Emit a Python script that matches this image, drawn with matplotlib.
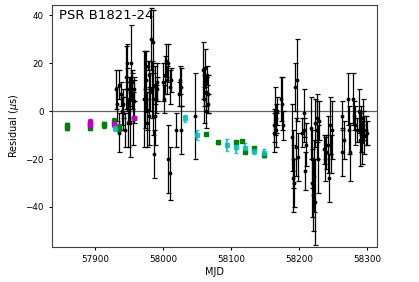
import numpy as np
import matplotlib
matplotlib.use('Agg')
import matplotlib.pyplot as plt

# Black (wideband) residuals: MJD, residual (us), error (us)
mjd_k = [57931, 57933, 57935, 57936, 57938, 57940, 57941, 57942, 57944, 57946,
         57947, 57948, 57949, 57950, 57951, 57952, 57953, 57954, 57955, 57956,
         57957, 57958, 57973, 57974, 57975, 57976, 57977, 57978, 57979, 57980,
         57981, 57983, 57984, 57985, 57986, 57987, 57988, 57989, 57990, 57991,
         57992, 58000, 58001, 58003, 58005, 58006, 58007, 58008, 58010, 58011,
         58012, 58020, 58024, 58025, 58026, 58027, 58047, 58059, 58060, 58061,
         58062, 58063, 58064, 58065, 58066, 58067, 58163, 58164, 58165, 58166,
         58167, 58168, 58174, 58175, 58176, 58190, 58191, 58192, 58193, 58195,
         58196, 58197, 58198, 58205, 58207, 58208, 58209, 58210, 58218, 58219,
         58220, 58221, 58222, 58223, 58224, 58226, 58227, 58228, 58230, 58237,
         58238, 58240, 58243, 58245, 58246, 58247, 58248, 58263, 58264, 58267,
         58272, 58273, 58275, 58280, 58281, 58283, 58286, 58289, 58290, 58291,
         58292, 58293, 58294, 58295, 58296, 58298, 58300]
res_k = [9, 3, 11, -9, 7, 0, 3, -1, -8, 14,
         9, 20, -5, 5, -5, 8, 20, 9, 12, -3,
         4, 9, 5, 9, 13, -5, 0, 19, -2, 15,
         8, 30, 9, 29, 5, -18, -2, 11, 5, 12,
         9, 12, 5, 15, 21, 13, 20, -20, 10, -26,
         13, -8, 7, 13, -8, 10, -2, 17, 10, 5,
         18, 0, 8, 15, 3, 7, -6, -9, 0, -3,
         -8, 0, 5, 3, -6, -11, -20, -28, -30, 10,
         -15, 13, -19, -9, -8, -1, -25, -14, -7, -20,
         -30, -35, -27, -38, -5, -3, -8, -20, -4, -16,
         -20, -17, -14, -28, -6, -18, -8, -2, -17, -12,
         5, -8, -17, 5, -2, -6, -8, 0, -12, -5,
         -10, -13, -3, -6, -10, -8, -9]
err_k = [8, 7, 6, 8, 5, 6, 6, 7, 7, 13,
         9, 8, 10, 9, 14, 6, 16, 8, 4, 11,
         9, 5, 20, 16, 12, 10, 8, 2, 12, 6,
         8, 13, 12, 13, 15, 10, 12, 8, 6, 8,
         5, 8, 6, 8, 7, 6, 8, 14, 7, 11,
         5, 7, 5, 6, 10, 8, 18, 12, 8, 10,
         8, 7, 6, 4, 4, 8, 7, 8, 10, 6,
         7, 6, 9, 11, 6, 14, 12, 14, 10, 10,
         12, 17, 10, 6, 5, 10, 8, 9, 13, 12,
         14, 15, 15, 18, 10, 10, 12, 14, 8, 6,
         9, 7, 12, 10, 12, 8, 12, 6, 10, 8,
         11, 10, 12, 11, 6, 8, 5, 9, 11, 7,
         7, 9, 8, 6, 8, 6, 5]

# Green
mjd_g = [57859, 57859, 57893, 57893, 57913, 57913, 57928, 57935, 57935, 57957,
         58064, 58081, 58107, 58117, 58121, 58134, 58148]
res_g = [-6, -7, -7, -5.5, -5.5, -6, -4, -7.5, -6.5, -3,
         -9.5, -13, -13, -12.5, -17, -15.5, -18.5]
err_g = [1, 1, 1, 1, 1, 1, 1, 1, 1, 0.5,
         0.5, 0.7, 0.6, 0.5, 0.5, 0.5, 0.5]

# Magenta
mjd_m = [57893, 57893, 57928, 57957]
res_m = [-4.5, -6, -5.5, -3]
err_m = [1, 1, 1, 0.5]

# Cyan
mjd_c = [57930, 58032, 58050, 58094, 58107, 58121, 58134, 58148]
res_c = [-7, -3, -10, -14, -15, -15.5, -16.5, -17.5]
err_c = [1.5, 1.5, 2, 2.5, 2.5, 2, 1.5, 1.5]

plt.rcParams['font.size'] = 7
plt.rcParams['axes.linewidth'] = 0.8
plt.rcParams['axes.edgecolor'] = '0.25'

fig, ax = plt.subplots(figsize=(4.19, 2.82), dpi=100)
ax.axhline(0, color='0.4', lw=0.9, zorder=0)
ax.errorbar(mjd_k, res_k, yerr=err_k, fmt='.k', ms=3.5, capsize=1.8, elinewidth=0.9,
            capthick=0.9)
ax.errorbar(mjd_g, res_g, yerr=err_g, fmt='s', color='g', ms=2.8, capsize=1.5)
ax.errorbar(mjd_m, res_m, yerr=err_m, fmt='s', color='m', ms=2.8, capsize=1.5)
ax.errorbar(mjd_c, res_c, yerr=err_c, fmt='s', color='c', ms=2.8, capsize=1.5, alpha=0.8)

ax.set_xlim(57837, 58315)
ax.set_ylim(-56.7, 44.2)
ax.set_xticks([57900, 58000, 58100, 58200, 58300])
ax.set_yticks([-40, -20, 0, 20, 40])
ax.tick_params(labelsize=6.3, length=2.5, width=0.8)
ax.set_xlabel('MJD', labelpad=2)
ax.set_ylabel(r'Residual ($\mu$s)', labelpad=3)
ax.text(0.022, 0.985, 'PSR B1821-24', transform=ax.transAxes, fontsize=9.5, va='top')

fig.subplots_adjust(left=0.124, right=0.9, top=0.982, bottom=0.124)
fig.savefig('out.png', dpi=100)
